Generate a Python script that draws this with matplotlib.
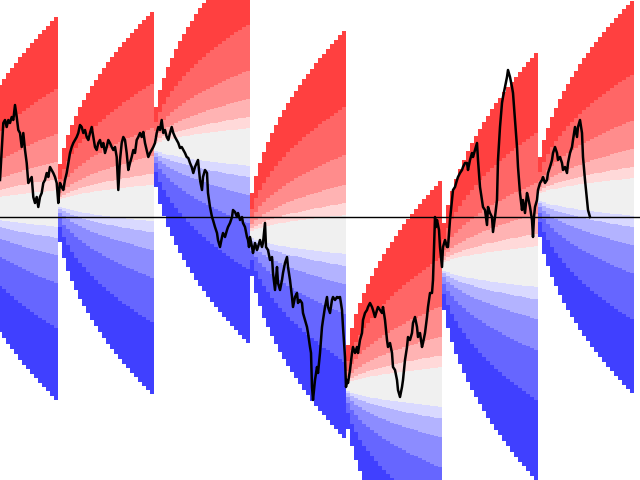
import numpy as np
import matplotlib; matplotlib.use("Agg")
import matplotlib.pyplot as plt

# fan segments: start step, centre level, one-step spread
SEG_START = [-38, 58, 154, 250, 346, 442, 538]
SEG_CENTER = [104.25, 107.0, 135.0, 91.25, 15.0, 75.2, 110.0]
SEG_SPREAD = [19.5, 19.5, 20.0, 20.75, 21.0, 21.8, 20.0]
N_STEPS = 24
STEP_W = 4

# band edges as share of the outer half-width (inner -> outer)
BAND_FRAC = [0.095, 0.153, 0.244, 0.39, 0.625, 1.0]
REDS = ["#ffd9d9", "#ffb3b3", "#ff8c8c", "#ff6666", "#ff4040"]
BLUES = ["#d9d9ff", "#b3b3ff", "#8c8cff", "#6666ff", "#4040ff"]
MID = "#f0f0f0"
REF_LEVEL = 100.0

path_x = [0, 1.7, 3.3, 5, 6.7, 8.3, 10, 11.7, 13.3, 15, 16.7, 18.3, 20, 21.7, 23.3, 25,
          26.7, 28.3, 30, 31.7, 33.3, 35, 36.7, 38.3, 40, 41.7, 43.3, 45, 46.7, 48.3, 50,
          51.7, 53.3, 55, 56.7, 58.3, 59.3, 60, 61.7, 63.3, 65, 66.7, 68.3, 70, 71.7, 73.3,
          75, 76.7, 78.3, 80, 81.7, 83.3, 85, 86.7, 88.3, 90, 91.7, 93.3, 95, 96.7, 98.3,
          100, 101.7, 103.3, 105, 106.7, 108.3, 110, 111.7, 113.3, 115, 116.7, 118.3, 120,
          121.7, 123.3, 125, 126.7, 128.3, 130, 131.7, 133.3, 135, 136.7, 138.3, 140, 141.7,
          143.3, 145, 146.7, 148.3, 150, 151.7, 153.3, 155, 156.7, 158.3, 160, 161.7, 163.3,
          165, 166.7, 168.3, 170, 171.7, 173.3, 175, 176.7, 178.3, 180, 181.7, 183.3, 185,
          186.7, 188.3, 190, 191.7, 193.3, 195,
          198, 200, 202, 203, 205, 207, 208, 210, 212, 213, 215, 217, 218, 220, 222, 223,
          225, 227, 228, 230, 232, 233, 235, 237, 238, 240, 242, 243, 245, 247, 248, 249,
          250, 252, 253, 255, 257, 258, 260, 262, 263, 265, 266, 268, 270, 272, 273, 275,
          277, 278, 280, 282, 283, 285, 287, 288, 290, 292, 293, 295, 297, 298, 300, 302,
          303, 305, 307, 308, 310, 311, 312, 313, 315, 317, 318, 320, 322, 323, 325, 327,
          328, 330, 332, 333, 335, 337, 338, 340, 342, 343, 345, 346, 347, 348, 350, 352,
          353, 355, 357, 358, 360, 362, 363, 365, 367, 368, 370, 372, 373, 375, 377, 378,
          380, 382, 383, 385, 387, 388, 390, 392, 393,
          395, 397, 398, 400, 402, 403, 405, 407, 408, 410, 412, 413, 415, 417, 418, 420,
          422, 423, 425, 427, 428, 430, 432, 433, 434, 435, 436, 437, 439, 440, 442, 443,
          445, 447, 448, 450, 452, 453, 455, 457, 458, 460, 462, 463, 465, 467, 468, 470,
          472, 473, 475, 477, 478, 480, 482, 483, 485, 487, 488, 490, 492, 493, 495, 497,
          498, 500, 502, 503, 505, 507, 508, 510, 512, 513, 515, 517, 518, 520, 522, 523,
          525, 527, 528, 530, 532, 533, 534, 535, 537, 538, 540, 542, 543, 545, 547, 548,
          550, 552, 553, 555, 557, 558, 560, 562, 563, 565, 567, 568, 570, 572, 573, 575,
          577, 578, 580, 582, 583, 585, 587, 588, 590]
path_y = [118.5, 133.5, 147, 148.5, 145, 148.5, 147, 150, 148.5, 156, 150, 143.5, 142, 135,
          142, 133.5, 127, 117, 118.5, 120, 110, 107, 110, 105, 110, 112, 117, 118.5, 122,
          120, 125, 123.5, 122, 120, 117, 107, 113.5, 117, 115, 113.5, 118.5, 122, 127, 132,
          135, 137, 138.5, 140, 142, 146, 145, 142, 143.5, 140, 138.5, 142, 145, 140, 135,
          133.5, 137, 138.5, 135, 137, 132, 135, 138.5, 137, 135, 133.5, 135, 130, 113.5,
          128.5, 137, 140, 138.5, 132, 123.5, 127, 130, 133.5, 132, 138.5, 140, 142, 140,
          142.5, 137, 133.5, 130, 132, 133.5, 135, 137, 142, 145, 143.5, 148.5, 142, 143.5,
          140, 138.5, 142, 145, 142, 140, 138.5, 137, 134.5, 135, 133.5, 132, 130, 129.5,
          127, 125, 122, 125,
          128.5, 118.5, 113.5, 120, 123.5, 122, 112, 105, 100, 98.5, 95, 92, 88.5, 85, 90,
          92, 90, 93.5, 95, 97, 100, 103.5, 102.5, 100, 102, 98.5, 100, 97, 95, 90, 88.5,
          85, 90, 85, 82, 87, 83.5, 85, 88.5, 85, 87, 97, 85, 83.5, 78.5, 80, 72, 63.5, 75,
          67, 63.5, 68.5, 72, 77, 80, 75, 68.5, 60, 55, 60, 62, 57, 58.5, 57, 52, 48.5, 45,
          42, 35, 32, 15, 8.5, 18.5, 25, 22, 32, 45, 48.5, 55, 60, 55, 52, 58.5, 60, 58.5,
          60, 59.5, 60, 53.5, 45, 30, 15, 18.5, 17, 23.5, 32, 35, 32, 35, 32, 38.5, 42,
          48.5, 52, 53.5, 55, 57, 55, 53.5, 50, 53.5, 55, 53.5, 52, 55, 48.5, 38.5, 35, 37,
          32, 25,
          23.5, 18.5, 13.5, 10, 15, 18.5, 28.5, 35, 40, 38.5, 42, 47, 50, 45, 40, 42, 35,
          37, 42, 50, 55, 62, 62, 68.5, 85, 100, 95, 98.5, 93.5, 85, 75, 85, 88.5, 85, 85,
          98.5, 108.5, 113.5, 115, 118.5, 120, 122, 123.5, 125, 127, 127, 123.5, 128.5,
          132, 130, 133.5, 137, 128.5, 115, 108.5, 105, 103.5, 96, 105, 102, 100, 92.5,
          100, 108.5, 128.5, 145, 157, 160, 165, 170, 173.5, 170, 165, 162, 148.5, 135,
          125, 112, 103.5, 108.5, 102, 112, 110, 105, 98.5, 90, 100, 105, 108.5, 113.5,
          117, 118.5, 120, 117, 118.5, 122, 125, 128.5, 132, 135, 132, 128.5, 130, 127,
          123.5, 125, 122, 127, 132, 135, 138.5, 145, 140, 145, 148.5, 142, 130, 118.5,
          108.5, 103.5, 100]


def draw_fan(ax, x0, centre, spread):
    k = np.arange(1, N_STEPS + 1)
    half = spread * np.sqrt(k)
    half = np.append(half, half[-1])
    xs = x0 + STEP_W * np.arange(N_STEPS + 1)
    for i in range(len(BAND_FRAC) - 1, 0, -1):
        w = BAND_FRAC[i] * half
        ax.fill_between(xs, centre, centre + w, step="post", color=REDS[i - 1], lw=0)
        ax.fill_between(xs, centre - w, centre, step="post", color=BLUES[i - 1], lw=0)
    w = BAND_FRAC[0] * half
    ax.fill_between(xs, centre - w, centre + w, step="post", color=MID, lw=0)


def main():
    fig = plt.figure(figsize=(6.4, 4.8), dpi=100)
    ax = fig.add_axes([0, 0, 1, 1])
    for x0, c, s in zip(SEG_START, SEG_CENTER, SEG_SPREAD):
        draw_fan(ax, x0, c, s)
    ax.axhline(REF_LEVEL, color="black", lw=1)
    ax.plot(path_x, path_y, color="black", lw=1.8)
    ax.set_xlim(0, 640)
    ax.set_ylim(-31.5, 208.5)
    ax.axis("off")
    fig.savefig("out.png", dpi=100)
    plt.close(fig)


if __name__ == "__main__":
    main()
